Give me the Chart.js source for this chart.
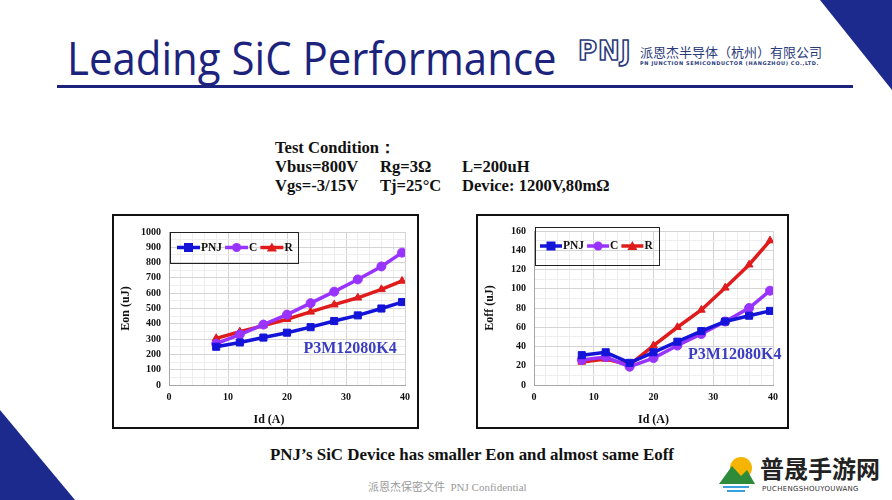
<!DOCTYPE html>
<html>
<head>
<meta charset="utf-8">
<script src="https://cdn.jsdelivr.net/npm/chart.js@4.4.1/dist/chart.umd.min.js"></script>
<style>
  html, body { margin: 0; padding: 0; background: #fff; }
  #page { position: relative; width: 892px; height: 500px; overflow: hidden; background: #fff; }
  .tri { position: absolute; width: 0; height: 0; }
  #title { position: absolute; left: 67px; top: 26px; font-family: "Open Sans", sans-serif; font-size: 46px; color: #1c237d; white-space: nowrap; transform-origin: left top; }
  #rule { position: absolute; left: 57px; top: 85px; width: 796px; height: 3px; background: #1c237d; }
  #logo { position: absolute; left: 578px; top: 36px; font-family: "DejaVu Sans", sans-serif; font-weight: bold; font-size: 26px; color: #fff; -webkit-text-stroke: 1.6px #2a3a7a; letter-spacing: 1px; }
  #cn { position: absolute; left: 640px; top: 42px; font-family: "Noto Sans CJK SC", sans-serif; font-size: 13px; color: #2a3a7a; white-space: nowrap; }
  #en { position: absolute; left: 640px; top: 60px; font-family: "DejaVu Sans", sans-serif; font-weight: bold; font-size: 5px; color: #2a3a7a; white-space: nowrap; letter-spacing: 0.6px; }
  .cond { position: absolute; font-family: "Liberation Serif", serif; font-weight: bold; font-size: 16.6px; color: #111; white-space: nowrap; }
  .box { position: absolute; border: 2px solid #111; background: #fff; }
  #summary { position: absolute; left: 270px; top: 445px; font-family: "Liberation Serif", serif; font-weight: bold; font-size: 16.9px; color: #111; white-space: nowrap; }
  #footer { position: absolute; left: 368px; top: 478px; font-family: "Liberation Serif", "Noto Sans CJK SC", serif; font-size: 11px; color: #9a9a9a; white-space: nowrap; }
  #wm-icon { position: absolute; left: 717px; top: 454px; width: 38px; height: 40px; }
  #wm-cn { position: absolute; left: 760px; top: 454px; font-family: "Noto Sans CJK SC", sans-serif; font-weight: bold; font-size: 24px; color: #222; white-space: nowrap; line-height: 28px; }
  #wm-en { position: absolute; left: 762px; top: 485px; font-family: "DejaVu Sans", sans-serif; font-size: 7px; color: #333; white-space: nowrap; letter-spacing: 0.3px; }
</style>
</head>
<body>
<div id="page">
  <div class="tri" style="left:820px;top:0;border-top:90px solid #1b2a8c;border-left:72px solid transparent;"></div>
  <div class="tri" style="left:0;top:410px;border-bottom:90px solid #1b2a8c;border-right:75px solid transparent;"></div>

  <div id="title">Leading SiC Performance</div>
  <div id="rule"></div>
  <div id="logo">PNJ</div>
  <div id="cn">派恩杰半导体（杭州）有限公司</div>
  <div id="en">PN JUNCTION SEMICONDUCTOR (HANGZHOU) CO.,LTD.</div>

  <div class="cond" style="left:275px;top:137px;">Test Condition：</div>
  <div class="cond" style="left:275px;top:157px;">Vbus=800V</div>
  <div class="cond" style="left:380px;top:157px;">Rg=3Ω</div>
  <div class="cond" style="left:462px;top:157px;">L=200uH</div>
  <div class="cond" style="left:275px;top:176px;">Vgs=-3/15V</div>
  <div class="cond" style="left:380px;top:176px;">Tj=25°C</div>
  <div class="cond" style="left:462px;top:176px;">Device: 1200V,80mΩ</div>

  <div class="box" style="left:112px;top:214px;width:303px;height:211px;"><canvas id="eon" width="303" height="211"></canvas></div>
  <div class="box" style="left:476px;top:214px;width:309px;height:211px;"><canvas id="eoff" width="309" height="211"></canvas></div>

  <div id="summary">PNJ’s SiC Device has smaller Eon and almost same Eoff</div>
  <div id="footer">派恩杰保密文件&nbsp; PNJ Confidential</div>

  <svg id="wm-icon" viewBox="0 0 38 40">
    <circle cx="24" cy="14" r="11" fill="#f5b400"/>
    <polygon points="2,30 15,12 24,22 30,16 38,30" fill="#2e8b3a"/>
    <rect x="6" y="32" width="26" height="2" fill="#3aa0e0"/>
    <rect x="10" y="36" width="18" height="2" fill="#3aa0e0"/>
  </svg>
  <div id="wm-cn">普晟手游网</div>
  <div id="wm-en">PUCHENGSHOUYOUWANG</div>
</div>

<script>
// drain current, A
const idAmps = [8, 12, 16, 20, 24, 28, 32, 36, 39.5];
const seriesNames = ['PNJ', 'C', 'R'];

// Eon (uJ)
const eonPNJ = [250, 278, 310, 342, 378, 418, 455, 500, 542];
const eonC = [270, 330, 395, 460, 535, 610, 690, 775, 865];
const eonR = [305, 348, 388, 430, 478, 525, 570, 625, 680];

// Eoff (uJ)
const eoffPNJ = [31, 34, 23, 34, 45, 56, 66, 72, 77];
const eoffC = [26, 29, 19, 28, 41, 53, 66, 80, 98];
const eoffR = [24, 27, 21, 41, 60, 78, 101, 125, 150];

const xTicks = [0, 10, 20, 30, 40];
const eonTicks = [0, 100, 200, 300, 400, 500, 600, 700, 800, 900, 1000];
const eoffTicks = [0, 20, 40, 60, 80, 100, 120, 140, 160];

const partNo = 'P3M12080K4';

const colors = ['#1414d8', '#9933ff', '#e01b1b'];
const markers = ['rect', 'circle', 'triangle'];
const serif = '"Liberation Serif", "Times New Roman", serif';

// fit title to the width seen on the slide
const title = document.getElementById('title');
title.style.transform = 'scaleX(' + (490 / title.scrollWidth) + ')';

// legend sample: short line with the marker in the middle
function drawSample(g, i, x, y, w) {
    g.save();
    g.strokeStyle = colors[i];
    g.fillStyle = colors[i];
    g.lineWidth = 3.5;
    g.beginPath();
    g.moveTo(x, y);
    g.lineTo(x + w, y);
    g.stroke();
    const cx = x + w / 2;
    g.beginPath();
    if (i === 0) {
        g.rect(cx - 4.5, y - 4.5, 9, 9);
    } else if (i === 1) {
        g.arc(cx, y, 4.5, 0, Math.PI * 2);
    } else {
        g.moveTo(cx, y - 5);
        g.lineTo(cx + 5, y + 4);
        g.lineTo(cx - 5, y + 4);
        g.closePath();
    }
    g.fill();
    g.restore();
}

// Excel-like legend box inside the plot, and the part number text
const framePlugin = {
    id: 'frame',
    afterDraw(chart, args, opts) {
        const ctx = chart.ctx;
        const area = chart.chartArea;
        const left = area.left + 1;
        const top = area.top + opts.legendTop;
        const cy = top + opts.legendHeight / 2;
        ctx.save();
        ctx.font = 'bold 11.5px ' + serif;
        ctx.textBaseline = 'middle';
        ctx.fillStyle = '#111';
        let x = left + opts.legendPadLeft;
        chart.data.datasets.forEach((ds, i) => {
            drawSample(ctx, i, x, cy, opts.sampleWidth);
            x += opts.sampleWidth + 1;
            ctx.fillStyle = '#111';
            ctx.fillText(ds.label, x, cy + 0.5);
            x += ctx.measureText(ds.label).width + opts.itemGap;
        });
        const right = x - opts.itemGap + opts.legendPadRight;
        ctx.strokeStyle = '#222';
        ctx.lineWidth = 1;
        ctx.strokeRect(Math.round(left) + 0.5, Math.round(top) + 0.5, Math.round(right - left), opts.legendHeight);

        const px = chart.scales.x.getPixelForValue(opts.labelX);
        const py = chart.scales.y.getPixelForValue(opts.labelY);
        ctx.font = 'bold 16px ' + serif;
        ctx.fillStyle = '#3b3dc2';
        ctx.textAlign = 'center';
        ctx.fillText(partNo, px, py);
        ctx.restore();
    }
};

function makeChart(canvasId, seriesData, yTicks, yMinor, yTitle, xTitle, padRight, padTop, yWidth, frameOpts) {
    const yMajor = yTicks[1] - yTicks[0];
    const xMajor = xTicks[1] - xTicks[0];
    const ctx = document.getElementById(canvasId).getContext('2d');
    return new Chart(ctx, {
        type: 'line',
        data: {
            datasets: seriesData.map((vals, i) => ({
                label: seriesNames[i],
                data: idAmps.map((x, j) => ({ x: x, y: vals[j] })),
                borderColor: colors[i],
                backgroundColor: colors[i],
                borderWidth: 3.5,
                pointStyle: markers[i],
                pointRadius: i === 0 ? 5 : 4.5,
                pointBorderWidth: 1,
                tension: 0,
            })),
        },
        options: {
            responsive: false,
            animation: false,
            layout: { padding: { top: padTop, right: padRight, left: 0, bottom: 0 } },
            plugins: {
                legend: { display: false },
                tooltip: { enabled: false },
                frame: frameOpts,
            },
            scales: {
                x: {
                    type: 'linear',
                    min: xTicks[0],
                    max: xTicks[xTicks.length - 1],
                    afterFit: (s) => { s.height = 42; },
                    ticks: {
                        stepSize: 2,
                        autoSkip: false,
                        maxRotation: 0,
                        padding: 6,
                        color: '#111',
                        font: { family: serif, weight: 'bold', size: 10 },
                        callback: (v) => (xTicks.includes(v) ? v : ''),
                    },
                    grid: {
                        drawTicks: false,
                        color: (c) => (c.tick && c.tick.value % xMajor === 0 ? '#d4d4d4' : '#eeeeee'),
                    },
                    border: { color: '#a6a6a6' },
                    title: {
                        display: true,
                        text: xTitle,
                        color: '#111',
                        font: { family: serif, weight: 'bold', size: 12 },
                        padding: { top: 4, bottom: 0 },
                    },
                },
                y: {
                    type: 'linear',
                    min: yTicks[0],
                    max: yTicks[yTicks.length - 1],
                    afterFit: (s) => { s.width = yWidth; },
                    ticks: {
                        stepSize: yMinor,
                        autoSkip: false,
                        padding: 8,
                        color: '#111',
                        font: { family: serif, weight: 'bold', size: 10 },
                        callback: (v) => (yTicks.includes(v) ? v : ''),
                    },
                    grid: {
                        drawTicks: false,
                        color: (c) => (c.tick && c.tick.value % yMajor === 0 ? '#d4d4d4' : '#eeeeee'),
                    },
                    border: { color: '#a6a6a6' },
                    title: {
                        display: true,
                        text: yTitle,
                        color: '#111',
                        font: { family: serif, weight: 'bold', size: 12 },
                        padding: { top: 5, bottom: 0 },
                    },
                },
            },
        },
        plugins: [framePlugin],
    });
}

// the Eon sheet has its x title sitting left of the plot centre; trailing spaces shift it
makeChart('eon', [eonPNJ, eonC, eonR], eonTicks, 50, 'Eon (uJ)', 'Id (A)            ', 12, 16, 55,
    { legendTop: 0, legendHeight: 31, legendPadLeft: 7, legendPadRight: 5, sampleWidth: 23, itemGap: 3,
      labelX: 30.7, labelY: 237 });
makeChart('eoff', [eoffPNJ, eoffC, eoffR], eoffTicks, 10, 'Eoff (uJ)', 'Id (A)', 14, 15, 56,
    { legendTop: -4, legendHeight: 38, legendPadLeft: 5, legendPadRight: 6, sampleWidth: 22, itemGap: 3,
      labelX: 33.6, labelY: 31 });
</script>
</body>
</html>
